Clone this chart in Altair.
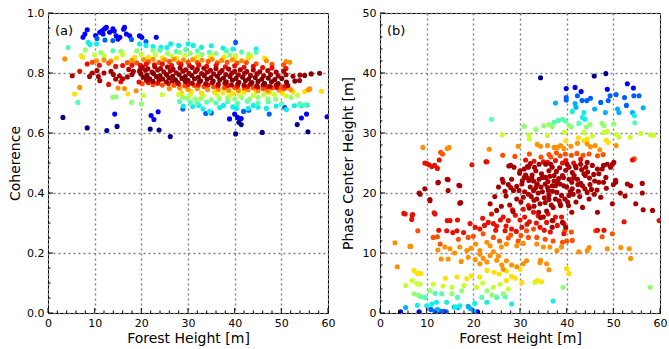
import altair as alt
import pandas as pd

# ---------------- colour groups (jet-like) ----------------
COLORS = {
    "navy": "#00008f", "blue": "#0000ff", "azure": "#0060ff", "lightblue": "#00b0ff",
    "cyan": "#10f0e8", "aqua": "#50ffaf", "green": "#90ff70", "ygreen": "#c8ff30",
    "yellow": "#ffe000", "orange": "#ff9000", "dorange": "#ff5000", "red": "#e81000",
    "dred": "#a80000", "vdred": "#820000",
}

X_TICKS = [0, 10, 20, 30, 40, 50, 60]
X_MINOR = [2, 4, 6, 8, 12, 14, 16, 18, 22, 24, 26, 28, 32, 34, 36, 38, 42, 44, 46, 48, 52, 54, 56, 58]
A_TICKS = [0.0, 0.2, 0.4, 0.6, 0.8, 1.0]
A_MINOR = [0.05, 0.1, 0.15, 0.25, 0.3, 0.35, 0.45, 0.5, 0.55, 0.65, 0.7, 0.75, 0.85, 0.9, 0.95]
B_TICKS = [0, 10, 20, 30, 40, 50]
B_MINOR = [2, 4, 6, 8, 12, 14, 16, 18, 22, 24, 26, 28, 32, 34, 36, 38, 42, 44, 46, 48]

# ---------------- panel (a): forest height vs coherence ----------------
A_NAVY = [(3.2,0.652),(8.4,0.617),(12.6,0.608),(14.8,0.622),(21.9,0.613),(23.8,0.610),(26.2,0.588),
          (40.2,0.597),(45.9,0.602),(55.7,0.604),(40.9,0.636),(41.4,0.628),(53.4,0.628)]
A_BLUE = [(7.5,0.919),(7.9,0.930),(8.4,0.944),(10.2,0.925),(11.1,0.936),(11.6,0.941),(11.8,0.930),
          (12.1,0.947),(12.5,0.952),(13.2,0.936),(13.9,0.947),(14.2,0.940),(14.6,0.924),(15.0,0.913),
          (15.4,0.919),(16.2,0.946),(16.4,0.952),(16.8,0.930),(17.5,0.924),(19.6,0.924),(20.1,0.919),
          (23.2,0.919),(14.3,0.663),(22.1,0.658),(22.7,0.645),(23.6,0.671),(38.9,0.647),(40.0,0.663),
          (40.6,0.652),(41.4,0.648),(54.3,0.650),(55.4,0.663),(59.8,0.654)]
A_AZURE = [(10.5,0.915),(12.2,0.910),(13.9,0.908),(17.9,0.912),(21.0,0.905),(40.2,0.902),(28.9,0.680),
           (33.8,0.665),(35.0,0.667),(41.9,0.672),(43.0,0.676),(47.4,0.663),(50.7,0.686)]
A_CYAN = [(8.6,0.902),(9.0,0.895),(10.4,0.897),(19.6,0.897),(21.0,0.892),(22.5,0.888),(24.2,0.886),
          (25.5,0.885),(26.3,0.897),(28.0,0.892),(30.0,0.897),(31.1,0.892),(32.9,0.886),(35.0,0.891),
          (37.5,0.883),(39.6,0.880),(44.6,0.880),(29.0,0.690),(31.0,0.688),(32.3,0.692),(33.2,0.680),
          (34.6,0.672),(36.8,0.685),(37.6,0.692),(39.6,0.687),(40.4,0.682),(42.9,0.682),(44.0,0.692),
          (45.0,0.686),(46.8,0.682),(48.9,0.690),(51.1,0.678),(52.8,0.691),(54.3,0.691),(55.5,0.693)]
A_AQUA = [(4.3,0.885),(6.4,0.702),(13.9,0.874),(24.0,0.876),(27.5,0.872),(29.5,0.878),(32.0,0.874),
          (34.6,0.869),(38.2,0.874),(41.5,0.870),(44.6,0.869),(28.2,0.705),(30.5,0.702),(32.0,0.699),
          (34.0,0.703),(36.0,0.700),(38.5,0.705),(40.6,0.698),(42.7,0.706),(45.0,0.700),(47.2,0.704),
          (50.0,0.697),(53.9,0.697),(55.0,0.694)]
A_GREEN = [(8.0,0.877),(11.3,0.868),(15.6,0.872),(19.0,0.874),(22.5,0.874),(25.6,0.866),(28.2,0.869),
           (30.5,0.866),(33.0,0.862),(36.0,0.866),(39.0,0.861),(43.0,0.862),(13.9,0.719),(14.6,0.721),
           (17.9,0.702),(20.0,0.697),(28.9,0.719),(29.8,0.716),(31.5,0.713),(32.7,0.715),(35.0,0.711),
           (36.7,0.714),(38.5,0.717),(40.0,0.713),(41.5,0.718),(43.2,0.714),(45.0,0.719),(47.1,0.714),
           (48.8,0.713),(52.1,0.719)]
A_YGREEN = [(7.1,0.858),(10.0,0.860),(12.0,0.857),(16.0,0.862),(20.0,0.862),(23.0,0.860),(26.5,0.857),
            (29.3,0.858),(32.0,0.855),(35.0,0.858),(37.8,0.855),(40.2,0.858),(43.5,0.855),(20.5,0.725),
            (24.5,0.728),(28.0,0.728),(30.5,0.726),(33.2,0.724),(36.3,0.727),(39.0,0.725),(41.0,0.728),
            (44.0,0.726),(46.2,0.728),(48.5,0.729),(51.0,0.723),(53.5,0.726)]
A_YELLOW = [(7.4,0.853),(14.7,0.850),(18.6,0.852),(21.5,0.852),(24.5,0.851),(27.6,0.850),(31.5,0.849),
            (34.7,0.850),(37.5,0.848),(40.0,0.847),(42.9,0.849),(46.4,0.850),(5.7,0.730),(17.1,0.730),
            (28.6,0.735),(30.7,0.738),(32.9,0.733),(35.7,0.736),(37.5,0.734),(39.6,0.732),(42.0,0.736),
            (44.6,0.739),(47.5,0.735),(50.2,0.733),(52.5,0.737),(55.0,0.738),(58.6,0.739)]
A_ORANGE = [(3.6,0.847),(10.4,0.841),(12.0,0.843),(13.5,0.840),(18.0,0.842),(20.5,0.845),(22.5,0.846),
            (25.0,0.844),(27.0,0.846),(29.0,0.843),(31.0,0.845),(33.0,0.843),(35.2,0.846),(37.2,0.842),
            (39.5,0.844),(41.5,0.841),(46.8,0.841),(51.8,0.836),(51.0,0.838),(6.8,0.752),(15.0,0.750),
            (16.4,0.748),(18.9,0.741),(26.0,0.748),(28.2,0.750),(30.0,0.746),(32.0,0.748),(34.2,0.745),
            (36.5,0.745),(38.7,0.742),(40.8,0.742),(42.9,0.744),(45.0,0.741),(47.0,0.740),(49.5,0.743),
            (51.2,0.750),(52.0,0.745),(55.8,0.744),(56.1,0.747)]
A_DORANGE = [(9.5,0.836),(13.0,0.833),(17.0,0.835),(19.0,0.834),(21.5,0.837),(23.8,0.835),(26.0,0.838),
             (28.0,0.834),(30.0,0.836),(32.0,0.835),(34.3,0.838),(36.3,0.834),(38.4,0.836),(40.5,0.833),
             (42.5,0.835),(44.6,0.831),(48.0,0.829),(50.5,0.827),(20.2,0.764),(22.5,0.761),(24.5,0.760),
             (27.0,0.759),(29.3,0.757),(31.4,0.758),(33.4,0.755),(35.5,0.754),(37.8,0.751),(40.0,0.752),
             (42.0,0.750),(44.0,0.751),(46.1,0.748),(48.0,0.750),(50.0,0.753),(50.5,0.748)]
A_RED = [(8.4,0.830),(6.8,0.806),(11.0,0.826),(14.5,0.822),(16.0,0.825),(18.0,0.826),(19.8,0.826),
         (21.0,0.829),(22.8,0.827),(24.5,0.830),(26.5,0.825),(28.5,0.828),(30.3,0.825),(32.3,0.827),
         (34.0,0.822),(36.0,0.825),(38.0,0.821),(40.0,0.824),(42.0,0.819),(44.0,0.822),(46.0,0.818),
         (48.0,0.817),(51.0,0.815),(13.0,0.762),(15.6,0.771),(19.5,0.770),(21.5,0.768),(23.5,0.766),
         (25.8,0.765),(28.0,0.763),(30.0,0.762),(32.2,0.760),(34.3,0.760),(36.4,0.757),(38.5,0.758),
         (40.6,0.756),(42.8,0.755),(45.0,0.753),(47.0,0.754),(49.0,0.752),(50.8,0.756)]
A_DRED = [(5.2,0.791),(8.9,0.788),(10.8,0.788),(11.1,0.774),(12.0,0.800),(13.5,0.806),(14.0,0.795),
          (15.3,0.790),(16.0,0.781),(14.5,0.780),(17.3,0.812),(18.3,0.806),(19.8,0.812),(10.5,0.808),
          (9.5,0.800),(18.0,0.795),(17.0,0.787),
          (20.2,0.819),(21.4,0.814),(22.9,0.821),(24.1,0.815),(25.6,0.820),(26.8,0.812),(28.3,0.817),
          (29.5,0.811),(30.9,0.818),(32.0,0.812),(33.4,0.816),(34.8,0.809),(36.0,0.814),(37.3,0.808),
          (38.7,0.813),(40.0,0.806),(41.2,0.811),(42.6,0.805),(44.0,0.810),(45.4,0.804),(47.1,0.808),
          (48.9,0.803),(50.5,0.806),
          (19.6,0.806),(20.9,0.809),(22.3,0.803),(23.5,0.810),(24.8,0.804),(26.2,0.807),(27.5,0.801),
          (28.9,0.806),(30.2,0.799),(31.6,0.804),(32.9,0.798),(34.1,0.803),(35.5,0.797),(36.8,0.801),
          (38.1,0.795),(39.4,0.800),(40.8,0.794),(42.1,0.799),(43.4,0.792),(44.8,0.797),(46.2,0.791),
          (47.7,0.795),(49.3,0.790),(51.0,0.794),(52.5,0.789),(54.0,0.793),
          (21.1,0.776),(22.5,0.772),(23.8,0.777),(25.4,0.770),(26.6,0.774),(27.8,0.768),(29.4,0.772),
          (30.9,0.766),(32.4,0.770),(33.8,0.764),(35.2,0.768),(36.5,0.762),(37.9,0.766),(39.3,0.760),
          (40.7,0.764),(42.0,0.759),(43.4,0.763),(44.7,0.757),(46.1,0.761),(47.6,0.756),(48.9,0.760),
          (51.4,0.758),(53.9,0.775)]
A_VDRED = [(19.9,0.797),(21.2,0.792),(22.6,0.798),(24.0,0.791),(25.4,0.795),(26.7,0.789),(28.1,0.794),
           (29.4,0.788),(30.8,0.792),(32.2,0.786),(33.5,0.791),(34.9,0.785),(36.3,0.789),(37.6,0.783),
           (39.0,0.788),(40.3,0.782),(41.7,0.786),(43.0,0.780),(44.4,0.785),(45.8,0.779),(47.2,0.783),
           (48.6,0.778),(50.1,0.782),(55.0,0.792),(56.4,0.797),(58.2,0.799),
           (20.4,0.786),(21.8,0.781),(23.2,0.788),(24.6,0.780),(25.9,0.784),(27.3,0.777),(28.7,0.782),
           (30.0,0.776),(31.4,0.781),(32.7,0.774),(34.1,0.779),(35.4,0.773),(36.8,0.777),(38.2,0.771),
           (39.5,0.776),(40.9,0.769),(42.3,0.774),(43.7,0.768),(45.0,0.772),(46.4,0.766),(47.9,0.771),
           (49.3,0.765),(51.1,0.770),(52.9,0.773)]

# ---------------- panel (b): forest height vs phase centre height ----------------
B_NAVY = [(34.4,39.2),(45.9,39.5),(48.4,39.9)]
B_BLUE = [(41.8,37.6),(39.9,37.4),(43.1,36.9),(48.7,37.3),(53.0,38.2),(54.3,37.5),
          (4.4,0.2),(8.4,0.2),(13.0,0.2),(20.9,0.2)]
B_AZURE = [(39.9,35.9),(39.9,35.5),(42.3,36.2),(43.3,35.4),(44.3,35.4),(45.1,35.8),(49.3,36.2),
           (48.9,35.4),(50.6,36.4),(54.4,36.2),(55.5,36.2),(52.4,35.9),(52.8,34.6),(47.3,35.1),
           (11.8,0.3),(12.6,0.4),(13.6,0.3),(14.2,0.2),(10.9,0.6)]
B_LIGHTBLUE = [(37.6,35.0),(41.8,34.9),(42.0,34.3),(46.0,34.0),(48.3,33.4),(50.9,34.0),(51.2,33.4),
               (54.1,33.4),(56.4,34.2),(5.5,0.9),(12.3,0.6),(15.9,1.0),(16.7,0.9),(18.9,1.1),
               (19.4,0.7),(20.1,0.3)]
B_CYAN = [(41.2,33.6),(43.7,33.4),(54.5,32.9),(43.4,32.6),(43.9,32.3),(8.0,1.3),(10.0,1.2),(11.1,1.5),
          (12.1,1.8),(14.3,1.8),(16.1,1.0),(17.1,1.2),(20.3,1.6),(22.9,1.8),(28.2,1.5),(37.1,2.0)]
B_AQUA = [(42.6,31.6),(39.1,32.3),(38.2,32.1),(39.7,32.0),(37.3,31.8),(23.9,32.3),(54.6,31.7),
          (8.7,2.7),(9.6,2.6),(11.8,3.3),(13.2,3.2),(16.6,2.6),(21.8,2.6),(25.0,2.6),(26.8,2.7)]
B_GREEN = [(36.2,31.4),(36.9,31.1),(35.1,31.2),(33.4,30.6),(30.9,31.1),(40.5,31.3),(41.0,31.0),
           (50.1,31.5),(47.6,31.6),(48.0,31.2),(45.0,31.4),(44.2,31.0),(7.3,3.2),(8.2,3.0),(10.7,3.7),
           (15.4,3.2),(17.5,3.7),(22.9,3.7),(26.4,3.2),(39.2,4.3),(57.9,4.3),(24.0,3.0)]
B_YGREEN = [(26.2,29.7),(31.9,29.7),(32.0,29.0),(35.9,29.6),(39.5,30.1),(43.7,30.1),(48.0,30.1),
            (48.7,30.3),(51.2,29.3),(50.6,29.8),(53.6,29.3),(55.9,29.9),(57.9,29.7),(58.6,29.6),
            (45.5,29.5),(5.5,4.6),(6.9,5.4),(7.9,4.9),(8.6,4.8),(11.4,4.8),(15.4,4.3),(20.7,4.3),
            (24.3,4.3),(25.7,4.8),(18.0,4.6),(13.5,4.5),(27.5,4.0),(22.0,5.0),(33.2,5.1)]
B_YELLOW = [(43.7,28.7),(44.4,29.0),(39.8,28.7),(48.9,28.4),(48.5,28.8),(42.5,29.2),(7.3,7.1),(8.0,6.6),
            (8.7,6.6),(18.6,5.7),(19.6,6.2),(21.4,6.0),(22.9,7.1),(24.4,6.8),(25.5,6.5),(27.1,5.4),
            (28.2,6.1),(27.1,7.0),(30.0,7.3),(30.4,5.1),(33.7,5.4),(34.6,5.2),(40.0,7.4),(40.5,6.6),
            (16.5,6.0),(14.0,5.8),(29.0,5.8)]
B_ORANGE = [(9.2,27.6),(14.4,27.4),(14.8,27.6),(23.4,27.3),(29.6,27.8),(33.7,28.1),(34.4,27.8),
            (35.9,27.9),(37.3,27.6),(38.0,27.6),(38.7,27.9),(39.4,27.4),(40.9,27.8),(42.3,28.3),
            (44.4,28.2),(45.1,27.7),(46.1,27.9),(47.1,27.2),(50.6,27.9),(3.2,11.7),(3.7,7.7),(6.4,11.1),
            (6.6,11.1),(12.4,10.5),(13.9,11.0),(15.0,10.7),(17.1,11.0),(18.6,10.4),(13.1,9.0),(14.6,9.0),
            (17.4,8.6),(18.9,9.3),(21.4,9.8),(21.4,10.4),(22.1,9.1),(22.9,8.5),(23.6,9.6),(24.3,10.2),
            (25.0,8.8),(25.4,9.5),(26.1,8.0),(26.4,7.3),(27.1,8.7),(28.2,8.0),(29.3,7.7),(21.4,8.2),
            (20.4,8.9),(30.7,8.2),(31.4,8.7),(34.3,8.4),(34.4,8.8),(35.7,8.2),(36.2,7.2),(22.9,11.8),
            (23.6,11.2),(27.1,11.5),(26.0,11.0),(29.3,11.2),(30.7,11.6),(33.6,11.5),(35.0,11.0),
            (36.4,11.0),(37.9,10.4),(38.9,11.0),(42.6,10.2),(44.4,10.4),(44.8,10.9),(48.7,10.7),
            (51.6,10.9),(53.4,10.7),(53.7,9.1),(19.5,10.8),(16.0,10.0),(20.5,11.5)]
B_DORANGE = [(13.0,26.8),(13.4,26.5),(26.3,26.3),(28.9,26.1),(32.0,26.5),(34.5,26.0),(36.2,26.4),
             (36.6,26.0),(37.8,26.7),(38.6,26.2),(39.7,26.5),(41.0,26.3),(42.2,26.6),(43.5,26.3),
             (44.8,26.5),(46.6,26.2),(47.8,26.4),(54.5,25.7),(8.1,13.7),(11.4,12.6),(12.9,11.5),
             (12.3,12.7),(24.3,12.6),(22.1,13.2),(27.5,12.5),(28.0,13.0),(29.6,12.0),(31.4,13.7),
             (32.9,14.0),(39.6,13.7),(41.0,13.5),(46.2,13.7),(47.6,12.7),(49.8,13.2),(20.0,12.8),
             (18.9,12.6),(16.8,12.3),(31.8,12.6),(33.6,12.6),(35.4,12.3),(37.1,12.0),(40.0,12.0),
             (41.2,12.1),(39.1,11.8),(25.6,12.0),(30.2,12.9)]
B_RED = [(10.0,24.9),(10.5,24.7),(11.1,24.4),(11.7,24.6),(12.3,24.1),(9.6,25.0),(12.7,25.5),(22.7,25.2),
         (19.7,24.7),(22.9,25.2),(31.2,25.5),(33.0,25.3),(35.0,25.2),(35.9,25.1),(37.6,25.4),(39.1,25.0),
         (39.8,25.4),(41.5,25.0),(43.0,25.6),(54.1,25.5),(5.1,16.6),(6.8,15.6),(7.0,16.4),(5.4,16.5),
         (6.9,16.3),(11.6,16.7),(11.8,16.5),(14.4,15.4),(15.0,15.4),(16.6,15.5),(12.6,13.8),(14.3,13.7),
         (15.6,13.4),(16.5,13.7),(17.9,13.4),(19.3,14.9),(20.4,14.3),(21.4,14.0),(22.4,14.6),(23.2,15.1),
         (24.3,14.9),(25.0,14.5),(26.4,16.0),(27.5,15.4),(28.2,14.0),(26.8,13.7),(23.9,16.5),(29.0,16.3),
         (30.7,17.3),(31.8,17.9),(32.9,16.8),(33.9,16.2),(35.7,15.1),(34.3,14.3),(37.1,15.4),(38.9,16.0),
         (39.4,14.9),(37.6,16.0),(39.4,13.2),(46.6,13.8),(48.0,13.8),(52.3,15.2),(59.8,15.4),(30.0,15.5),
         (31.5,14.8),(36.0,16.5),(31.0,16.0),(32.0,15.2),(33.5,15.0),(35.2,13.8),(36.5,13.5),(38.0,14.6),
         (29.2,13.6),(30.4,14.3),(27.0,14.5),(25.8,15.5),(24.8,13.8),(22.0,15.8),(28.4,17.2)]
B_DRED = [(28.0,24.6),(28.7,24.3),(27.6,24.5),(30.9,24.0),(31.6,24.4),(33.4,23.7),(34.1,24.8),(35.5,24.8),
          (36.6,24.8),(36.9,24.3),(36.2,23.7),(40.1,24.8),(40.5,24.3),(41.2,23.4),(42.0,24.2),(43.0,24.8),
          (44.1,24.3),(44.4,25.1),(43.7,23.2),(46.6,24.0),(46.9,23.2),(47.6,24.0),(47.9,24.6),(48.7,24.8),
          (49.4,24.3),(49.8,24.8),(50.1,25.1),(45.5,24.6),(38.5,24.2),(32.2,24.9),(29.9,23.3),(26.2,22.3),
          (30.9,22.6),(31.9,22.1),(32.6,23.0),(33.7,21.5),(34.8,22.8),(35.5,22.6),(36.0,21.9),(37.3,22.9),
          (38.3,22.4),(39.1,22.9),(40.5,22.3),(41.6,22.9),(42.3,22.3),(43.0,21.6),(44.9,22.5),(46.0,22.0),
          (46.9,21.8),(47.9,21.8),(48.4,22.6),(50.5,21.8),(50.5,22.1),(50.0,21.4),(53.0,21.5),(53.7,21.2),
          (56.2,21.6),(56.2,20.0),(54.8,18.2),(56.4,17.2),(58.4,17.1),(49.8,18.2),(46.6,16.8),(43.4,17.6),
          (9.6,20.7),(8.4,20.0),(10.7,18.9),(12.4,21.7),(14.4,22.3),(16.9,21.3),(17.3,18.4),(14.6,22.2),
          (12.5,21.8),(17.1,21.2),(14.6,20.4),(8.6,19.8),(10.7,18.7),(17.1,18.3),
          (23.6,18.2),(24.6,19.4),(25.0,17.1),(25.4,21.0),(26.0,17.8),(26.4,21.8),(27.5,21.4),(28.2,22.3),
          (28.6,20.4),(29.3,21.1),(29.3,19.0),(30.0,23.7),(30.7,19.3),(31.4,22.6),(31.8,19.8),(31.8,24.3),
          (32.2,21.0),(32.9,22.0),(32.9,20.4),(33.4,20.9),(33.6,21.5),(33.6,19.0),(34.1,22.3),(34.3,18.2),
          (34.8,20.2),(35.0,22.6),(35.4,21.5),(35.4,18.4),(35.7,17.0),(36.1,20.4),(36.2,19.6),(36.2,18.9),
          (36.9,21.2),(37.1,17.6),(37.3,22.0),(37.6,21.2),(37.9,20.1),(38.4,18.7),(38.6,21.5),(38.6,18.2),
          (38.7,17.9),(39.3,22.6),(39.6,19.0),(40.0,21.0),(40.4,17.9),(40.5,19.6),(41.1,21.8),(41.1,16.8),
          (41.2,20.7),(41.4,19.8),(42.5,20.3),(43.4,21.2),(44.4,20.1),(44.8,19.0),(45.9,19.8),(46.5,20.5),
          (47.3,19.3),(34.4,15.9),(36.9,15.4),(36.9,14.3),(39.1,15.1),(39.8,14.3),(32.0,17.5),(30.2,18.5),
          (27.8,18.0),(28.5,16.9),(33.0,18.8),(37.6,19.0),(42.0,18.5),(44.0,22.9),(45.0,21.4),(48.5,20.8),
          (51.5,20.0),(52.5,19.5),
          (30.4,21.5),(31.0,20.2),(31.2,23.0),(32.4,19.4),(32.5,22.6),(33.1,24.3),(33.9,20.0),(34.5,21.0),
          (34.6,23.2),(35.2,19.2),(35.9,20.9),(36.4,22.8),(36.7,18.0),(37.0,20.3),(37.8,23.6),(38.0,21.8),
          (38.9,19.6),(39.4,21.2),(39.8,23.8),(40.2,18.5),(40.8,20.3),(41.5,22.5),(41.9,24.5),(42.4,21.4),
          (42.8,19.4),(43.2,23.9),(43.9,20.7),(44.5,23.5),(45.3,20.6),(45.8,23.1),(29.8,20.4),(30.5,22.0),
          (33.0,17.8),(34.0,16.8),(35.0,16.0),(27.0,19.5),(28.0,20.9),(26.8,20.3)]

PANEL_A = [("navy", A_NAVY), ("blue", A_BLUE), ("azure", A_AZURE), ("cyan", A_CYAN), ("aqua", A_AQUA),
           ("green", A_GREEN), ("ygreen", A_YGREEN), ("yellow", A_YELLOW), ("orange", A_ORANGE),
           ("dorange", A_DORANGE), ("red", A_RED), ("dred", A_DRED), ("vdred", A_VDRED)]
PANEL_B = [("navy", B_NAVY), ("blue", B_BLUE), ("azure", B_AZURE), ("lightblue", B_LIGHTBLUE),
           ("cyan", B_CYAN), ("aqua", B_AQUA), ("green", B_GREEN), ("ygreen", B_YGREEN),
           ("yellow", B_YELLOW), ("orange", B_ORANGE), ("dorange", B_DORANGE), ("red", B_RED),
           ("dred", B_DRED)]

FONT = "DejaVu Sans"
W, H = 280, 300


def frame(groups):
    rows = []
    for name, pts in groups:
        for h, v in pts:
            rows.append({"h": h, "v": v, "g": name})
    return pd.DataFrame(rows)


def panel(groups, ytitle, ydom, yvals, yminor, yfmt, label, tpad):
    xs = alt.Scale(domain=[0, 60], nice=False, zero=False)
    ys = alt.Scale(domain=ydom, nice=False, zero=False)
    pts = alt.Chart(frame(groups)).mark_circle(size=26, opacity=1, clip=True).encode(
        x=alt.X("h:Q", scale=xs,
                axis=alt.Axis(values=X_TICKS, title="Forest Height [m]", format="d",
                              labelFlush=False)),
        y=alt.Y("v:Q", scale=ys,
                axis=alt.Axis(values=yvals, title=ytitle, format=yfmt, titlePadding=tpad,
                              labelFlush=False)),
        color=alt.Color("g:N", scale=alt.Scale(domain=list(COLORS), range=list(COLORS.values())),
                        legend=None),
    )
    # inward tick marks (major and minor) along the bottom and left frame edges
    layers = [pts]
    for vals, ln in ((X_TICKS, 5), (X_MINOR, 2.5)):
        layers.append(alt.Chart(pd.DataFrame({"h": vals})).mark_rule(color="black", strokeWidth=1)
                      .encode(x=alt.X("h:Q", scale=xs), y=alt.value(H), y2=alt.value(H - ln)))
    for vals, ln in ((list(yvals), 5), (list(yminor), 2.5)):
        layers.append(alt.Chart(pd.DataFrame({"v": vals})).mark_rule(color="black", strokeWidth=1)
                      .encode(y=alt.Y("v:Q", scale=ys), x=alt.value(0), x2=alt.value(ln)))
    txt = alt.Chart(pd.DataFrame({"t": [label]})).mark_text(
        align="left", baseline="middle", font=FONT, fontSize=13, color="black"
    ).encode(x=alt.value(7), y=alt.value(18), text="t:N")
    layers.append(txt)
    return alt.layer(*layers).properties(width=W, height=H)


pa = panel(PANEL_A, "Coherence", [0, 1], A_TICKS, A_MINOR, ".1f", "(a)", 4)
pb = panel(PANEL_B, "Phase Center Height [m]", [0, 50], B_TICKS, B_MINOR, "d", "(b)", 7)

chart = alt.hconcat(pa, pb, spacing=4).properties(
    padding={"left": 8, "top": 6, "right": 0, "bottom": 3}
).configure_view(stroke="black", strokeWidth=1).configure_axis(
    labelFont=FONT, titleFont=FONT, labelFontSize=11, titleFontSize=14,
    titleFontWeight="normal", labelColor="black", titleColor="black",
    grid=True, gridColor="#808080", gridDash=[2, 3], gridWidth=1.4, gridOpacity=1,
    ticks=False, domain=False, labelPadding=4, titlePadding=3,
)

chart.save("out.html", embed_options={"renderer": "svg", "actions": False})
